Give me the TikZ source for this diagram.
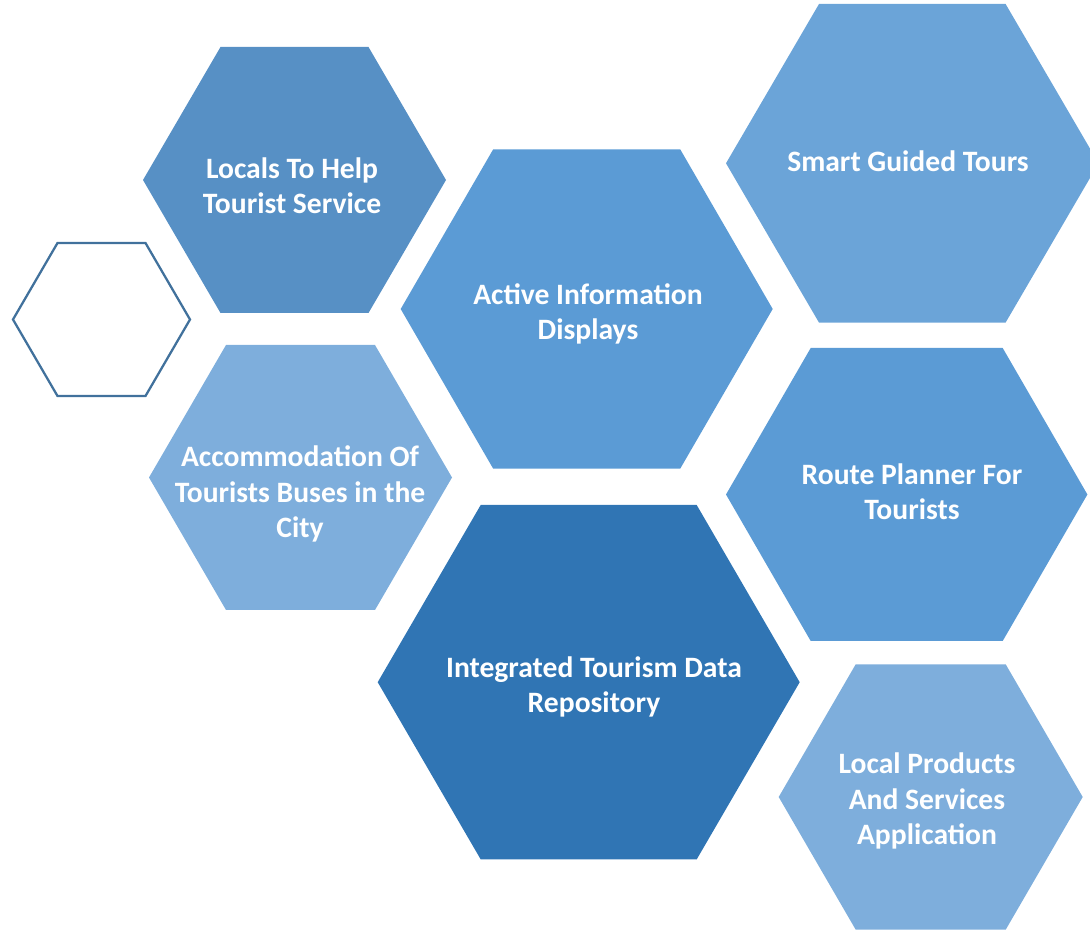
\documentclass[tikz,border=0pt]{standalone}
\usepackage{fontspec}
\setmainfont{Carlito}
\usepackage{tikz}
\definecolor{hexA}{HTML}{5790C5}
\definecolor{hexB}{HTML}{5B9BD5}
\definecolor{hexC}{HTML}{6BA4D8}
\definecolor{hexD}{HTML}{7EAEDC}
\definecolor{hexE}{HTML}{3075B4}
\definecolor{hexLine}{HTML}{41719C}
\tikzset{hextext/.style={text=white, align=center, font=\fontsize{22.2}{26.4}\selectfont\bfseries}}
% centre x, centre y, half width, half top edge, half height, style
\newcommand{\hexa}[6]{
	\draw[#6](#1-#3, #2)--(#1-#4, #2-#5)--(#1+#4, #2-#5)--(#1+#3, #2)--(#1+#4, #2+#5)--(#1-#4, #2+#5)--cycle
}

\begin{document}
\begin{tikzpicture}[x=.75pt, y=-.75pt]
    \useasboundingbox (0, 0) rectangle (1090, 930);
    \hexa {294.5}{180}{151.5}{74}{133}{fill=hexA, draw=none};
    \hexa {101.5}{319.5}{88.5}{44}{76.5}{draw=hexLine, line width=1.7pt};
    \hexa {300.5}{477.5}{151.5}{74.5}{132.5}{fill=hexD, draw=none};
    \hexa {586.7}{309}{186}{93.5}{159.7}{fill=hexB, draw=none};
    \hexa {912.3}{163.3}{186.3}{93.3}{159.3}{fill=hexC, draw=none};
    \hexa {906.7}{494.5}{180.7}{96}{146.5}{fill=hexB, draw=none};
    \hexa {588.7}{682.2}{211}{108}{177.2}{fill=hexE, draw=none};
    \hexa {930.7}{797}{152}{75}{132.7}{fill=hexD, draw=none};
    \node[hextext] (locals) at (292, 186) {Locals To Help\\Tourist Service};
    \node[hextext] (active) at (588, 314) {Active Information\\Displays};
    \node[hextext] (smart) at (908, 161) {Smart Guided Tours};
    \node[hextext] (buses) at (300, 494) {Accommodation Of\\Tourists Buses in the\\City};
    \node[hextext] (route) at (912, 492) {Route Planner For\\Tourists};
    \node[hextext] (repo) at (594, 687) {Integrated Tourism Data\\Repository};
    \node[hextext] (products) at (927, 801) {Local Products\\And Services\\Application};
\end{tikzpicture}
\end{document}
